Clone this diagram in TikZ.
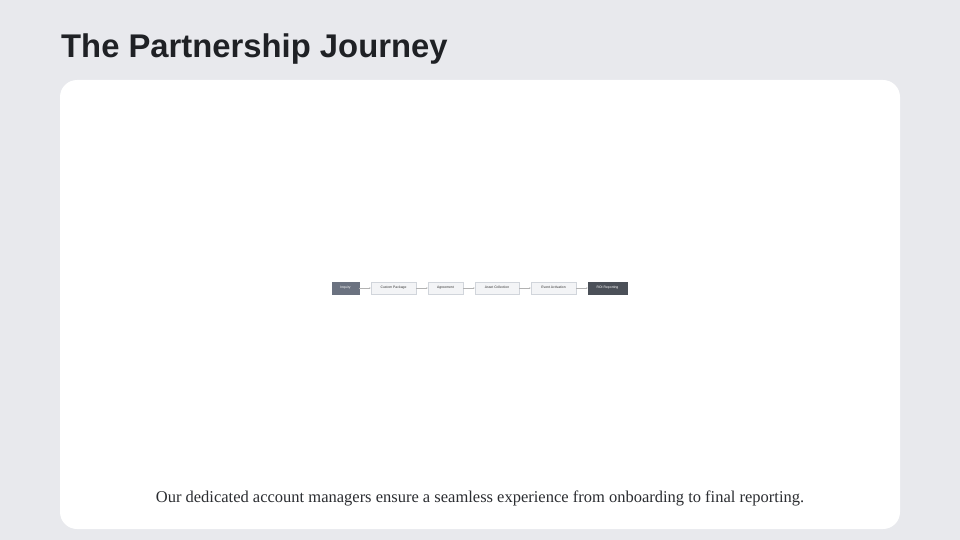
\documentclass[tikz,border=0pt]{standalone}
\usepackage{fontspec}
\setmainfont{Liberation Serif}
\newfontfamily\titlefont{Liberation Sans}
\newfontfamily\boxfont{Liberation Sans}
\usetikzlibrary{arrows.meta}

\definecolor{pagebg}{HTML}{E8E9ED}
\definecolor{titleink}{HTML}{1F2125}
\definecolor{stepfill}{HTML}{F3F4F6}
\definecolor{stepline}{HTML}{D1D5DB}
\definecolor{startfill}{HTML}{6B7280}
\definecolor{endfill}{HTML}{4B5058}
\definecolor{captionink}{HTML}{2B2D31}

\tikzset{
  stagebox/.style={draw=stepline, fill=stepfill, line width=0.4pt, minimum height=12pt,
    inner sep=0pt, text height=2.4pt, text depth=0.7pt,
    font=\boxfont\fontsize{3.4}{4}\selectfont, text=black!80},
  plainstage/.style={},
  firststage/.style={fill=startfill, draw=startfill, text=white},
  laststage/.style={fill=endfill, draw=endfill, text=white},
  link/.style={-{Stealth[length=1.6pt,width=1.4pt]}, gray!60, line width=0.3pt}
}

\begin{document}
\begin{tikzpicture}[x=1pt,y=-1pt]
        % Page and card
        \fill[pagebg] (0,0) rectangle (960,540);
        \useasboundingbox (0,0) rectangle (960,540);
        \fill[white, rounded corners=17pt] (60,80) rectangle (900,529);

        % Title
        \node[anchor=base west, inner sep=0pt, text=titleink,
          font=\titlefont\bfseries\fontsize{32.8}{38}\selectfont] (title) at (61,58) {The Partnership Journey};

        % Stages
        \foreach \x/\w/\name/\look/\txt in {345.5/27/s1/firststage/Inquiry,
            393.5/45/s2/plainstage/Custom Package, 445.5/35/s3/plainstage/Agreement,
            497/44/s4/plainstage/Asset Collection, 553.5/45/s5/plainstage/Event Activation,
            607.5/39/s6/laststage/ROI Reporting} {
          \node[stagebox, \look, minimum width=\w pt] (\name) at (\x,288) {\txt};
        }

        % Connections
        \foreach \a/\b in {s1/s2, s2/s3, s3/s4, s4/s5, s5/s6} {
          \draw[link] (\a) -- (\b);
        }

        % Caption
        \node[anchor=base, inner sep=0pt, text=captionink, font=\fontsize{16.5}{19}\selectfont]
          (caption) at (480,502) {Our dedicated account managers ensure a seamless experience from onboarding to final reporting.};
      \end{tikzpicture}
\end{document}
